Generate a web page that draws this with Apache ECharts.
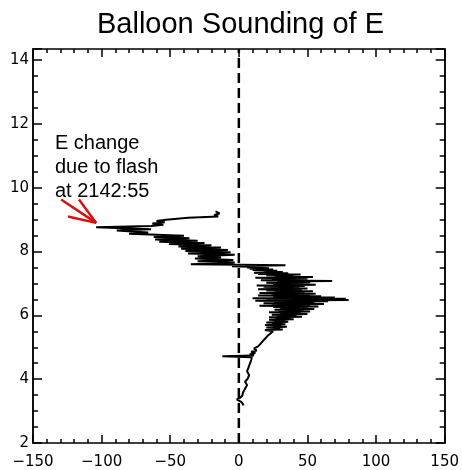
<!DOCTYPE html>
<html lang="en">
<head>
  <meta charset="UTF-8" />
  <title>Balloon Sounding of E</title>
  <script src="https://cdn.jsdelivr.net/npm/echarts@6/dist/echarts.min.js"></script>
  <style>
    html, body { margin: 0; padding: 0; background: #fff; }
    #chart { width: 462px; height: 470px; }
  </style>
</head>
<body>
  <div id="chart"></div>
  <script>
    // balloon trace, in ascent order: electric field (kV/m) vs altitude (km)
    var fieldKVm = [
      3.5, 2.0, -1.5, 0.5, 2.5, 3.0, 4.5, 6.0, 4.5, 6.5, 7.5, 6.0, 7.0, 8.0, 9.0, 9.5,
      -12, 11, 8, 12, 9, 13, 11, 14, 16, 18, 17, 21, 20, 25,
      19, 32, 24, 30, 20, 35, 25, 31, 19, 34, 24, 32, 20, 36, 26, 34, 22, 40, 27, 38,
      22, 46, 28, 42, 24, 50, 30, 45, 22, 52, 29, 47, 26, 55, 30, 50, 25, 58, 15, 52,
      24, 62, 18, 55, 26, 65, 12, 80, 20, 78, 10, 70, 25, 60, 14, 52, 24, 56, 15, 48,
      26, 54, 20, 46, 14, 50, 27, 44, 18, 48, 13, 56, 25, 45, 20, 52, 28, 68, 16, 46,
      24, 50, 12, 54, 26, 40, 20, 45, 14, 36, 11, 32, 18, 28, 10, 25, 8, 22, 6, 14,
      -5, 34, -35,
      -3, -30, -4, -32, -13, -30, -3, -37, -6, -39, -8, -42, -13, -44, -20, -51, -25, -58, -30, -61,
      -36, -62, -40, -80, -66, -89, -64, -104, -64, -55, -63, -54, -60, -53, -37, -15, -18, -14, -17
    ];
    var altitudeKm = [
      3.18, 3.28, 3.37, 3.40, 3.48, 3.58, 3.70, 3.82, 3.92, 4.02, 4.13, 4.25, 4.36, 4.48, 4.60, 4.69,
      4.72, 4.74, 4.78, 4.82, 4.86, 4.90, 4.96, 5.03, 5.12, 5.22, 5.28, 5.36, 5.42, 5.50,
      5.54, 5.56, 5.58, 5.60, 5.62, 5.64, 5.66, 5.68, 5.70, 5.72, 5.74, 5.76, 5.78, 5.80, 5.82, 5.84, 5.86, 5.88, 5.90, 5.92,
      5.94, 5.96, 5.98, 6.00, 6.02, 6.04, 6.06, 6.08, 6.10, 6.12, 6.14, 6.16, 6.18, 6.20, 6.22, 6.24, 6.26, 6.28, 6.30, 6.32,
      6.34, 6.36, 6.38, 6.40, 6.42, 6.44, 6.46, 6.48, 6.50, 6.52, 6.54, 6.56, 6.58, 6.60, 6.62, 6.64, 6.66, 6.68, 6.70, 6.72,
      6.74, 6.76, 6.78, 6.80, 6.82, 6.84, 6.86, 6.88, 6.90, 6.92, 6.94, 6.96, 6.98, 7.00, 7.02, 7.04, 7.06, 7.08, 7.10, 7.12,
      7.14, 7.16, 7.18, 7.20, 7.22, 7.24, 7.26, 7.28, 7.30, 7.32, 7.34, 7.36, 7.38, 7.40, 7.42, 7.44, 7.46, 7.48, 7.50, 7.52,
      7.54, 7.57, 7.60,
      7.66, 7.70, 7.74, 7.78, 7.82, 7.85, 7.90, 7.94, 7.98, 8.02, 8.05, 8.09, 8.13, 8.16, 8.20, 8.24, 8.27, 8.31, 8.34, 8.38,
      8.42, 8.46, 8.50, 8.56, 8.60, 8.66, 8.70, 8.76, 8.80, 8.84, 8.88, 8.92, 8.96, 9.00, 9.06, 9.10, 9.14, 9.20, 9.26
    ];
    var zeroLine = [[0, 2], [0, 14.35]];

    var xRange = [-150, 150];
    var yRange = [2, 14.35];

    var noteLines = ["E change", "due to flash", "at 2142:55"];

    function fmtX(v) {
      return v < 0 ? "\u2212" + Math.abs(v) : String(v);
    }
    function fmtY(v) {
      return (v % 2 === 0) ? String(v) : "";
    }

    var tickFont = { fontFamily: "DejaVu Sans", fontSize: 15, color: "#000" };
    var lineBlack = { color: "#000", width: 1.5 };

    function xAxisDef(pos, labels) {
      return {
        type: "value", position: pos, min: xRange[0], max: xRange[1], interval: 50,
        axisLine: { show: true, onZero: false, lineStyle: lineBlack },
        axisTick: { show: true, inside: true, length: 8, lineStyle: lineBlack },
        minorTick: { show: true, splitNumber: 5, length: 4, lineStyle: lineBlack },
        axisLabel: Object.assign({ show: labels, margin: 12, formatter: fmtX }, tickFont),
        splitLine: { show: false }
      };
    }
    function yAxisDef(pos, step, len, labels) {
      return {
        type: "value", position: pos, min: yRange[0], max: yRange[1], interval: step,
        axisLine: { show: true, onZero: false, lineStyle: lineBlack },
        axisTick: { show: true, inside: true, length: len, lineStyle: lineBlack },
        axisLabel: Object.assign({ show: labels, margin: 4, formatter: fmtY }, tickFont),
        splitLine: { show: false }
      };
    }

    var traceData = fieldKVm.map(function (e, i) { return [e, altitudeKm[i]]; });

    var chart = echarts.init(document.getElementById("chart"));
    chart.setOption({
      animation: false,
      backgroundColor: "#fff",
      title: {
        text: "Balloon Sounding of E",
        left: 92,
        top: 5,
        textStyle: { fontFamily: "Liberation Sans", fontSize: 29, fontWeight: "normal", color: "#000" }
      },
      grid: { left: 33, right: 12, top: 49, bottom: 27 },
      xAxis: [xAxisDef("bottom", true), xAxisDef("top", false)],
      yAxis: [
        yAxisDef("left", 2, 9, true),
        yAxisDef("left", 0.5, 5, false),
        yAxisDef("right", 2, 9, false),
        yAxisDef("right", 0.5, 5, false)
      ],
      series: [
        {
          type: "line",
          data: zeroLine,
          symbol: "none",
          silent: true,
          lineStyle: { color: "#000", width: 2.5, type: [10, 5] }
        },
        {
          type: "line",
          data: traceData,
          symbol: "none",
          lineStyle: { color: "#000", width: 2 }
        }
      ]
    });

    // annotation: text and red arrow pointing at the flash
    function px(p) { return chart.convertToPixel({ gridIndex: 0 }, p); }
    var tip = px([-104, 8.9]);
    var tail = px([-129.5, 9.63]);
    var wingA = px([-116.5, 9.63]);
    var wingB = px([-124.5, 9.1]);
    var noteAt = px([-134, 11.76]);
    var red = { stroke: "#d81010", lineWidth: 2.5 };

    chart.setOption({
      graphic: [
        {
          type: "text", x: noteAt[0], y: noteAt[1],
          style: { text: noteLines.join("\n"), font: "20px 'Liberation Sans'", fill: "#000", lineHeight: 24 }
        },
        { type: "line", shape: { x1: tail[0], y1: tail[1], x2: tip[0], y2: tip[1] }, style: red },
        { type: "line", shape: { x1: wingA[0], y1: wingA[1], x2: tip[0], y2: tip[1] }, style: red },
        { type: "line", shape: { x1: wingB[0], y1: wingB[1], x2: tip[0], y2: tip[1] }, style: red }
      ]
    });
  </script>
</body>
</html>
